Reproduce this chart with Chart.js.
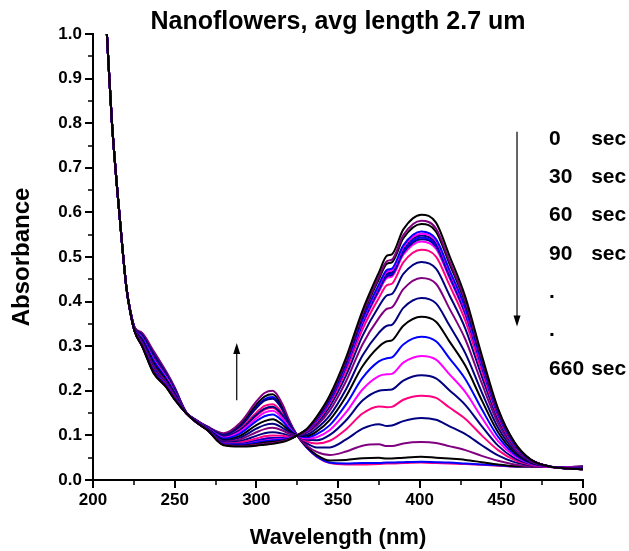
<!DOCTYPE html>
<html>
<head>
<meta charset="utf-8">
<script src="https://cdn.jsdelivr.net/npm/chart.js@4.4.1/dist/chart.umd.min.js"></script>
<style>
  html, body { margin: 0; padding: 0; background: #fff; }
  #wrap { width: 629px; height: 551px; }
</style>
</head>
<body>
<div id="wrap"><canvas id="uvChart" width="629" height="551"></canvas></div>
<script>
/* --------- データ --------- */
// 波長 (nm)
const wavelength = [208.5, 211.5, 216.5, 220.5, 223, 225.5, 230, 237, 245, 250, 257, 263, 270, 280, 290, 300, 305, 310, 316, 320, 325,
  331, 337, 345, 355, 365, 375, 380, 383, 390, 401, 410, 418, 428, 438, 448, 458, 468, 480, 490, 500];

// 吸光度（0 sec → 660 sec、30秒ごと）
const abs0 = [1.0, 0.807, 0.583, 0.43, 0.373, 0.333, 0.300, 0.240, 0.207, 0.180, 0.150, 0.130, 0.112, 0.078, 0.075, 0.077, 0.079, 0.081, 0.085, 0.090, 0.100,
  0.115, 0.142, 0.190, 0.275, 0.380, 0.465, 0.503, 0.506, 0.562, 0.595, 0.577, 0.505, 0.410, 0.280, 0.160, 0.085, 0.046, 0.030, 0.026, 0.024];
const abs30 = [1.0, 0.807, 0.583, 0.43, 0.373, 0.333, 0.301, 0.241, 0.208, 0.181, 0.150, 0.130, 0.112, 0.079, 0.076, 0.079, 0.081, 0.083, 0.087, 0.091, 0.100,
  0.114, 0.140, 0.187, 0.270, 0.373, 0.455, 0.491, 0.494, 0.549, 0.581, 0.564, 0.493, 0.401, 0.274, 0.157, 0.084, 0.046, 0.030, 0.026, 0.024];
const abs60 = [1.0, 0.807, 0.583, 0.43, 0.373, 0.333, 0.301, 0.242, 0.208, 0.181, 0.150, 0.130, 0.112, 0.079, 0.077, 0.081, 0.084, 0.086, 0.088, 0.092, 0.100,
  0.114, 0.139, 0.185, 0.267, 0.369, 0.450, 0.485, 0.488, 0.542, 0.574, 0.557, 0.487, 0.396, 0.271, 0.155, 0.083, 0.045, 0.030, 0.026, 0.024];
const abs90 = [1.0, 0.807, 0.583, 0.43, 0.373, 0.334, 0.302, 0.244, 0.210, 0.182, 0.150, 0.130, 0.113, 0.080, 0.079, 0.084, 0.087, 0.089, 0.091, 0.093, 0.100,
  0.113, 0.137, 0.181, 0.261, 0.360, 0.438, 0.471, 0.474, 0.526, 0.557, 0.540, 0.473, 0.385, 0.263, 0.151, 0.081, 0.045, 0.030, 0.026, 0.024];
const abs120 = [1.0, 0.807, 0.583, 0.43, 0.373, 0.334, 0.302, 0.244, 0.210, 0.182, 0.150, 0.130, 0.113, 0.080, 0.079, 0.085, 0.088, 0.091, 0.092, 0.094, 0.100,
  0.112, 0.136, 0.180, 0.259, 0.357, 0.435, 0.467, 0.470, 0.522, 0.552, 0.536, 0.469, 0.381, 0.261, 0.150, 0.081, 0.045, 0.030, 0.026, 0.024];
const abs150 = [1.0, 0.807, 0.583, 0.43, 0.373, 0.334, 0.303, 0.245, 0.210, 0.183, 0.150, 0.130, 0.113, 0.080, 0.080, 0.086, 0.089, 0.092, 0.093, 0.094, 0.100,
  0.112, 0.135, 0.179, 0.258, 0.355, 0.431, 0.463, 0.466, 0.518, 0.548, 0.531, 0.465, 0.378, 0.259, 0.149, 0.080, 0.045, 0.030, 0.026, 0.025];
const abs180 = [1.0, 0.807, 0.583, 0.43, 0.373, 0.334, 0.303, 0.245, 0.211, 0.183, 0.150, 0.131, 0.113, 0.081, 0.080, 0.087, 0.091, 0.093, 0.094, 0.095, 0.100,
  0.112, 0.135, 0.178, 0.256, 0.353, 0.429, 0.460, 0.463, 0.514, 0.544, 0.527, 0.462, 0.376, 0.257, 0.148, 0.080, 0.045, 0.030, 0.026, 0.025];
const abs210 = [1.0, 0.807, 0.583, 0.43, 0.373, 0.334, 0.303, 0.246, 0.211, 0.183, 0.150, 0.131, 0.113, 0.081, 0.081, 0.088, 0.092, 0.094, 0.094, 0.095, 0.100,
  0.111, 0.134, 0.177, 0.255, 0.351, 0.426, 0.457, 0.460, 0.510, 0.540, 0.524, 0.459, 0.373, 0.256, 0.147, 0.080, 0.044, 0.030, 0.026, 0.025];
const abs240 = [1.0, 0.807, 0.583, 0.43, 0.373, 0.334, 0.304, 0.246, 0.211, 0.183, 0.150, 0.131, 0.113, 0.081, 0.081, 0.089, 0.093, 0.095, 0.095, 0.095, 0.100,
  0.111, 0.134, 0.176, 0.253, 0.348, 0.422, 0.453, 0.456, 0.505, 0.535, 0.519, 0.455, 0.370, 0.253, 0.146, 0.079, 0.044, 0.030, 0.026, 0.025];
const abs270 = [1.0, 0.807, 0.583, 0.43, 0.374, 0.334, 0.305, 0.248, 0.213, 0.185, 0.150, 0.131, 0.113, 0.082, 0.084, 0.093, 0.098, 0.100, 0.099, 0.097, 0.100,
  0.110, 0.131, 0.172, 0.246, 0.338, 0.408, 0.437, 0.440, 0.488, 0.516, 0.501, 0.439, 0.357, 0.245, 0.142, 0.077, 0.044, 0.030, 0.026, 0.025];
const abs300 = [1.0, 0.807, 0.583, 0.43, 0.374, 0.335, 0.307, 0.251, 0.215, 0.186, 0.150, 0.131, 0.114, 0.084, 0.087, 0.099, 0.105, 0.107, 0.104, 0.100, 0.100,
  0.108, 0.127, 0.165, 0.235, 0.323, 0.389, 0.414, 0.417, 0.462, 0.489, 0.474, 0.416, 0.339, 0.233, 0.136, 0.075, 0.043, 0.030, 0.027, 0.025];
const abs330 = [1.0, 0.807, 0.583, 0.43, 0.374, 0.336, 0.309, 0.255, 0.218, 0.188, 0.151, 0.132, 0.114, 0.086, 0.091, 0.107, 0.114, 0.117, 0.111, 0.104, 0.100,
  0.106, 0.122, 0.156, 0.222, 0.304, 0.363, 0.384, 0.387, 0.428, 0.453, 0.440, 0.386, 0.315, 0.217, 0.127, 0.071, 0.042, 0.030, 0.027, 0.026];
const abs360 = [1.0, 0.807, 0.583, 0.43, 0.375, 0.336, 0.311, 0.259, 0.220, 0.191, 0.151, 0.132, 0.115, 0.088, 0.095, 0.115, 0.123, 0.126, 0.117, 0.107, 0.100,
  0.102, 0.116, 0.145, 0.204, 0.279, 0.330, 0.346, 0.348, 0.386, 0.408, 0.396, 0.348, 0.284, 0.197, 0.117, 0.067, 0.041, 0.030, 0.027, 0.026];
const abs390 = [1.0, 0.807, 0.583, 0.43, 0.375, 0.337, 0.314, 0.263, 0.223, 0.193, 0.151, 0.132, 0.116, 0.090, 0.099, 0.123, 0.132, 0.136, 0.124, 0.111, 0.100,
  0.099, 0.109, 0.135, 0.188, 0.255, 0.299, 0.311, 0.313, 0.346, 0.366, 0.355, 0.312, 0.256, 0.179, 0.107, 0.062, 0.039, 0.030, 0.027, 0.026];
const abs420 = [1.0, 0.807, 0.583, 0.43, 0.376, 0.338, 0.317, 0.268, 0.226, 0.195, 0.151, 0.133, 0.116, 0.093, 0.104, 0.132, 0.143, 0.147, 0.132, 0.115, 0.100,
  0.096, 0.103, 0.123, 0.170, 0.229, 0.266, 0.273, 0.275, 0.304, 0.321, 0.311, 0.274, 0.226, 0.159, 0.097, 0.058, 0.038, 0.030, 0.027, 0.027];
const abs450 = [1.0, 0.807, 0.583, 0.43, 0.376, 0.339, 0.319, 0.271, 0.229, 0.197, 0.151, 0.133, 0.117, 0.095, 0.108, 0.138, 0.151, 0.155, 0.138, 0.118, 0.100,
  0.093, 0.096, 0.112, 0.152, 0.203, 0.233, 0.237, 0.238, 0.263, 0.278, 0.270, 0.238, 0.197, 0.140, 0.087, 0.054, 0.037, 0.029, 0.028, 0.027];
const abs480 = [1.0, 0.807, 0.583, 0.43, 0.376, 0.339, 0.321, 0.275, 0.232, 0.200, 0.151, 0.134, 0.118, 0.097, 0.112, 0.146, 0.160, 0.164, 0.145, 0.122, 0.100,
  0.090, 0.089, 0.101, 0.134, 0.178, 0.200, 0.202, 0.203, 0.223, 0.235, 0.228, 0.202, 0.168, 0.121, 0.077, 0.049, 0.036, 0.029, 0.028, 0.028];
const abs510 = [1.0, 0.807, 0.583, 0.43, 0.376, 0.339, 0.320, 0.274, 0.231, 0.199, 0.151, 0.133, 0.117, 0.096, 0.111, 0.144, 0.158, 0.162, 0.143, 0.121, 0.100,
  0.086, 0.082, 0.088, 0.114, 0.149, 0.165, 0.163, 0.164, 0.180, 0.189, 0.184, 0.163, 0.137, 0.100, 0.067, 0.045, 0.034, 0.029, 0.028, 0.028];
const abs540 = [1.0, 0.807, 0.583, 0.43, 0.377, 0.341, 0.326, 0.283, 0.237, 0.204, 0.152, 0.134, 0.119, 0.101, 0.120, 0.161, 0.178, 0.182, 0.157, 0.128, 0.100,
  0.082, 0.073, 0.073, 0.091, 0.115, 0.125, 0.121, 0.122, 0.132, 0.139, 0.135, 0.121, 0.103, 0.078, 0.055, 0.040, 0.033, 0.029, 0.029, 0.029];
const abs570 = [1.0, 0.807, 0.583, 0.43, 0.377, 0.342, 0.330, 0.290, 0.242, 0.208, 0.152, 0.135, 0.120, 0.105, 0.128, 0.176, 0.195, 0.200, 0.170, 0.135, 0.100,
  0.077, 0.063, 0.056, 0.064, 0.077, 0.080, 0.076, 0.076, 0.082, 0.085, 0.083, 0.076, 0.067, 0.054, 0.043, 0.035, 0.031, 0.029, 0.029, 0.029];
const abs600 = [1.0, 0.807, 0.583, 0.43, 0.377, 0.341, 0.328, 0.287, 0.240, 0.206, 0.152, 0.135, 0.119, 0.103, 0.124, 0.169, 0.187, 0.192, 0.164, 0.132, 0.100,
  0.074, 0.056, 0.044, 0.045, 0.049, 0.050, 0.048, 0.048, 0.050, 0.052, 0.050, 0.048, 0.045, 0.040, 0.035, 0.031, 0.030, 0.029, 0.029, 0.030];
const abs630 = [1.0, 0.807, 0.583, 0.43, 0.377, 0.341, 0.326, 0.284, 0.238, 0.205, 0.152, 0.134, 0.119, 0.102, 0.122, 0.164, 0.181, 0.186, 0.160, 0.130, 0.100,
  0.072, 0.053, 0.039, 0.037, 0.038, 0.038, 0.039, 0.039, 0.040, 0.041, 0.040, 0.039, 0.037, 0.035, 0.033, 0.030, 0.030, 0.029, 0.029, 0.030];
const abs660 = [1.0, 0.807, 0.583, 0.43, 0.377, 0.340, 0.323, 0.278, 0.233, 0.201, 0.152, 0.134, 0.118, 0.098, 0.115, 0.151, 0.166, 0.170, 0.149, 0.124, 0.100,
  0.072, 0.052, 0.038, 0.035, 0.035, 0.036, 0.037, 0.037, 0.038, 0.039, 0.038, 0.037, 0.036, 0.034, 0.032, 0.030, 0.030, 0.029, 0.029, 0.030];

const timeLabels = ["0", "30", "60", "90", "120", "150", "180", "210", "240", "270", "300", "330",
  "360", "390", "420", "450", "480", "510", "540", "570", "600", "630", "660"];
const spectra = [abs0, abs30, abs60, abs90, abs120, abs150, abs180, abs210, abs240, abs270, abs300, abs330,
  abs360, abs390, abs420, abs450, abs480, abs510, abs540, abs570, abs600, abs630, abs660];

// 右側の凡例テキスト
const legendNums = ["0", "30", "60", "90", ".", ".", "660"];
const legendUnits = ["sec", "sec", "sec", "sec", "", "", "sec"];

/* --------- スタイル --------- */
const BLACK = "#000000", PURPLE = "#800080", BLUE = "#0000ff", MAGENTA = "#ff00ff", NAVY = "#000080", CRIMSON = "#ff0080";
const lineColors = [BLACK, PURPLE, BLACK, BLUE, MAGENTA, NAVY, BLUE, NAVY, MAGENTA, CRIMSON, NAVY, PURPLE,
  NAVY, BLACK, BLUE, MAGENTA, NAVY, CRIMSON, NAVY, PURPLE, BLACK, BLUE, CRIMSON];
const FONT = "'Liberation Sans', Arial, Helvetica, sans-serif";

/* --------- 補助描画（副目盛・矢印・タイトル・凡例） --------- */
function drawArrow(ctx, x, y0, y1) {
  const dir = y1 > y0 ? 1 : -1;
  ctx.beginPath();
  ctx.moveTo(x, y0);
  ctx.lineTo(x, y1 - dir * 8);
  ctx.stroke();
  ctx.beginPath();
  ctx.moveTo(x, y1);
  ctx.lineTo(x - 3.5, y1 - dir * 11);
  ctx.lineTo(x + 3.5, y1 - dir * 11);
  ctx.closePath();
  ctx.fill();
}

const decorations = {
  id: "decorations",
  afterDraw(chart) {
    const { ctx, chartArea, scales: { x, y } } = chart;
    ctx.save();
    ctx.strokeStyle = "#000";
    ctx.fillStyle = "#000";

    // 副目盛
    ctx.lineWidth = 1.5;
    ctx.beginPath();
    for (let v = 225; v < 500; v += 50) {
      const px = Math.round(x.getPixelForValue(v));
      ctx.moveTo(px, chartArea.bottom);
      ctx.lineTo(px, chartArea.bottom + 5);
    }
    for (let v = 0.05; v < 1; v += 0.1) {
      const py = Math.round(y.getPixelForValue(v));
      ctx.moveTo(chartArea.left, py);
      ctx.lineTo(chartArea.left - 5, py);
    }
    ctx.stroke();

    // 矢印
    ctx.lineWidth = 1.2;
    drawArrow(ctx, x.getPixelForValue(459.6), y.getPixelForValue(0.781), y.getPixelForValue(0.344));
    drawArrow(ctx, x.getPixelForValue(288), y.getPixelForValue(0.179), y.getPixelForValue(0.307));

    // タイトル
    ctx.font = "bold 25px " + FONT;
    ctx.textAlign = "center";
    ctx.textBaseline = "middle";
    ctx.fillText("Nanoflowers, avg length 2.7 um", (chartArea.left + chartArea.right) / 2, 22);

    // 凡例（時間）
    ctx.font = "bold 21px " + FONT;
    ctx.textAlign = "left";
    const rowTop = y.getPixelForValue(0.765);
    const rowGap = y.getPixelForValue(0.679) - rowTop;
    legendNums.forEach((n, i) => {
      const py = rowTop + i * rowGap;
      ctx.fillText(n, x.getPixelForValue(479.2), py);
      if (legendUnits[i]) ctx.fillText(legendUnits[i], x.getPixelForValue(505), py);
    });
    ctx.restore();
  },
};

/* --------- グラフ --------- */
const datasets = spectra.map((vals, i) => ({
  label: timeLabels[i] + " sec",
  data: wavelength.map((w, j) => ({ x: w, y: vals[j] })),
  borderColor: lineColors[i],
  backgroundColor: lineColors[i],
  borderWidth: 2,
  pointRadius: 0,
  cubicInterpolationMode: "monotone",
  fill: false,
}));

new Chart(document.getElementById("uvChart"), {
  type: "line",
  data: { datasets },
  options: {
    responsive: false,
    animation: false,
    layout: { padding: { top: 34, right: 46, left: 0, bottom: 0 } },
    plugins: {
      legend: { display: false },
      title: { display: false },
      tooltip: { enabled: false },
    },
    scales: {
      x: {
        type: "linear",
        min: 200,
        max: 500,
        afterFit: (s) => { s.height = 71; },
        border: { display: true, color: "#000", width: 2 },
        grid: { display: true, drawOnChartArea: false, drawTicks: true, tickLength: 8, color: "#000", lineWidth: 2 },
        ticks: { stepSize: 50, color: "#000", padding: 2, font: { family: FONT, size: 17, weight: "bold" } },
        title: { display: true, text: "Wavelength (nm)", color: "#000", padding: { top: 4, bottom: 0 },
          font: { family: FONT, size: 22, weight: "bold" } },
      },
      y: {
        type: "linear",
        min: 0,
        max: 1.0,
        afterFit: (s) => { s.width = 93; },
        border: { display: true, color: "#000", width: 2 },
        grid: { display: true, drawOnChartArea: false, drawTicks: true, tickLength: 8, color: "#000", lineWidth: 2 },
        ticks: { stepSize: 0.1, color: "#000", padding: 3, callback: (v) => v.toFixed(1),
          font: { family: FONT, size: 17, weight: "bold" } },
        title: { display: true, text: "Absorbance", color: "#000", padding: { top: 8, bottom: 0 },
          font: { family: FONT, size: 24, weight: "bold" } },
      },
    },
  },
  plugins: [decorations],
});
</script>
</body>
</html>
